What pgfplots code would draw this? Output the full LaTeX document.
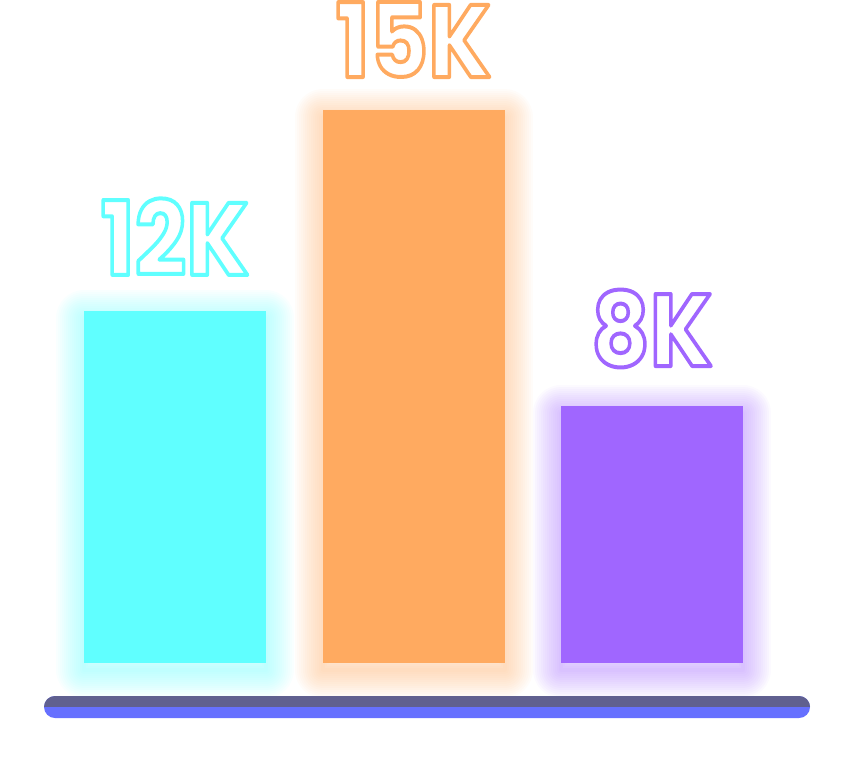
\documentclass[border=0pt]{standalone}
\usepackage{pgfplots}
\pgfplotsset{compat=1.18}
\usepackage{graphicx}
\usepackage{fontspec}
\setmainfont{Poppins}
\definecolor{cCyan}{HTML}{60FFFF}
\definecolor{cOrange}{HTML}{FFAA60}
\definecolor{cPurple}{HTML}{A066FF}
\definecolor{bTop}{HTML}{606090}
\definecolor{bBot}{HTML}{6670FF}
% outlined text: fill white, stroke in colour (#1 = "r g b")
\newcommand{\lbl}[2]{\scalebox{0.88}[1]{\textcolor{white}{\special{pdf:literal direct 2 Tr 4 w 1 j #1 RG}#2\special{pdf:literal direct 0 Tr}}}}
\begin{document}
\begin{tikzpicture}
\begin{axis}[
  name=ax,
  scale only axis, width=854bp, height=778bp,
  xmin=-0.7338, xmax=2.8470, ymin=-3.119, ymax=17.984,
  hide axis, clip=false,
  ybar=0pt, bar width=182bp,
]
% glow layers
\foreach \c/\x/\v in {cCyan/0/9.55, cOrange/1/15, cPurple/2/6.97} {
  \foreach \w in {56,52,48,44,40,36,32,28,24,20,16,12,8,4} {
    \edef\tmp{\noexpand\addplot[ybar, bar width=182bp, bar shift=0pt, fill=none, draw=\c, draw opacity=0.035, line width=\w bp, line join=round, yshift=-7bp, forget plot] coordinates {(\x,\v)};}
    \tmp
  }
}
% bars with labels
\addplot[ybar, bar shift=0pt, fill=cCyan, draw=none,
  nodes near coords={\lbl{0.376 1 1}{\pgfplotspointmeta}},
  point meta=explicit symbolic,
  every node near coord/.append style={anchor=base, yshift=36bp, inner sep=0pt, font=\fontsize{103}{103}\selectfont\bfseries}]
  coordinates {(0,9.55) [12K]};
\addplot[ybar, bar shift=0pt, fill=cOrange, draw=none,
  nodes near coords={\lbl{1 0.667 0.376}{\pgfplotspointmeta}},
  point meta=explicit symbolic,
  every node near coord/.append style={anchor=base, yshift=33bp, inner sep=0pt, font=\fontsize{103}{103}\selectfont\bfseries}]
  coordinates {(1,15) [15K]};
\addplot[ybar, bar shift=0pt, fill=cPurple, draw=none,
  nodes near coords={\lbl{0.627 0.4 1}{\pgfplotspointmeta}},
  point meta=explicit symbolic,
  every node near coord/.append style={anchor=base, yshift=40bp, inner sep=0pt, font=\fontsize{103}{103}\selectfont\bfseries}]
  coordinates {(2,6.97) [8K]};
% baseline
\fill[bBot, rounded corners=11bp] (axis cs:-0.5493,-0.895) rectangle (axis cs:2.6625,-1.492);
\begin{scope}
\clip[rounded corners=11bp] (axis cs:-0.5493,-0.895) rectangle (axis cs:2.6625,-1.492);
\fill[bTop] (axis cs:-0.6,-0.895) rectangle (axis cs:2.7,-1.193);
\end{scope}
\end{axis}
\pgfresetboundingbox
\path (ax.south west) rectangle (ax.north east);
\end{tikzpicture}
\end{document}
